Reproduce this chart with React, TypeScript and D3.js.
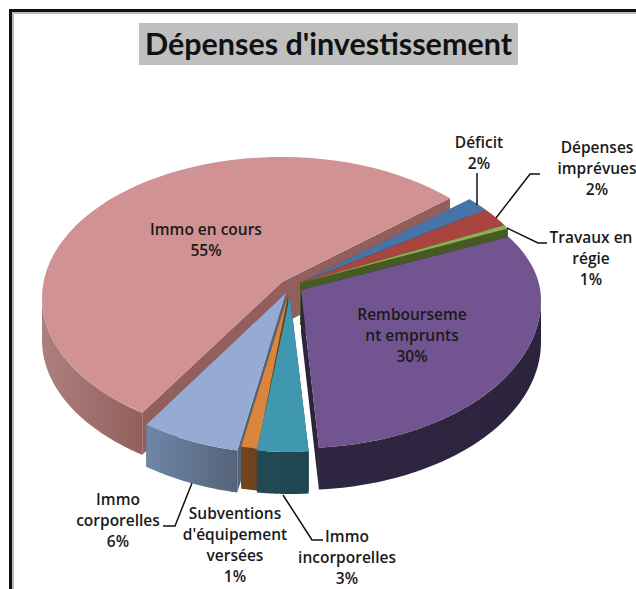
import React from "react";
import * as d3 from "d3";

const categories = ["Déficit", "Dépenses imprévues", "Travaux en régie", "Remboursement emprunts", "Immo incorporelles", "Subventions d'équipement versées", "Immo corporelles", "Immo en cours"];
const shares = [1.58, 2.17, 0.42, 32.08, 3.47, 1.11, 6.53, 52.64];
const percentLabels = ["2%", "2%", "1%", "30%", "3%", "1%", "6%", "55%"];
const labelLines = [["Déficit"], ["Dépenses", "imprévues"], ["Travaux en", "régie"], ["Rembourseme", "nt emprunts"], ["Immo", "incorporelles"], ["Subventions", "d'équipement", "versées"], ["Immo", "corporelles"], ["Immo en cours"]];
const topColors = ["#4674a8", "#a84540", "#8cb050", "#725590", "#4098b0", "#db843d", "#95abd4", "#d09292"];
const wallLight = ["#3c6390", "#8f3a36", "#4d6228", "#2f2642", "#224a55", "#74451d", "#6f86a8", "#ad807e"];
const wallDark = ["#2d4a6b", "#6b2b28", "#465a24", "#2c233d", "#1f4650", "#6c401b", "#55637a", "#935f5d"];
const apexes = [[300, 283], [300, 283], [300, 283], [301, 290], [290, 296], [288, 295], [286, 293], [282, 282]];
const rimCentres = [[300, 299], [300, 299], [300, 299], [300, 300], [290, 298], [291, 297], [288, 297], [281, 298]];
const rimRadii = [[240, 141, 141], [240, 141, 141], [240, 141, 141], [241, 126, 148], [238, 141, 154], [240, 141, 153], [244, 141, 157], [239, 141, 141]];
const labelAnchors = [[479, 148], [597, 153], [591, 243], [412, 320], [347, 542], [235, 519], [118, 505], [206, 235]];
const drawOrder = [7, 0, 1, 2, 3, 6, 5, 4];
const leaders = [[[477, 173], [477, 205]], [[540, 174], [530, 174], [496, 218]], [[547, 243], [538, 243], [507, 228]], null, [[323, 540], [312, 540], [283, 495]], null, [[163, 526], [175, 526], [192, 483]], null];

const W = 636, H = 589;
const DEPTH = 42;
const FIRST_ANGLE = (45 * Math.PI) / 180;

const pieLayout = d3.pie<number>().sort(null).startAngle(FIRST_ANGLE).endAngle(FIRST_ANGLE + 2 * Math.PI);
const arcs = pieLayout(shares);
const lineGen = d3.line<number[]>().x((d) => d[0]).y((d) => d[1]);

const point = (a: number, i: number, drop = 0) => {
  const cos = Math.cos(a);
  const [rx, ryTop, ryBottom] = rimRadii[i];
  return [rimCentres[i][0] + rx * Math.sin(a), rimCentres[i][1] - (cos > 0 ? ryTop : ryBottom) * cos + drop];
};
const sample = (a0: number, a1: number, i: number, drop = 0) =>
  d3.range(0, 61).map((k) => point(a0 + ((a1 - a0) * k) / 60, i, drop));

export default function App() {
  return (
    <svg width={W} height={H} style={{ position: "absolute", left: 0, top: 0, background: "#fff" }} fontFamily="'Open Sans', Lato, sans-serif">
      <defs>
        {arcs.map((_, i) => (
          <linearGradient key={i} id={`w${i}`} x1="0" x2="1" y1="0" y2="0">
            <stop offset="0" stopColor={wallLight[i]} />
            <stop offset="1" stopColor={wallDark[i]} />
          </linearGradient>
        ))}
      </defs>
      <rect x={0} y={0} width={W} height={H} fill="#fff" />
      <path d={`M10.5 ${H}V10.5H${W}`} fill="none" stroke="#111" strokeWidth={3} />
      <path d={`M13 ${H}V13H${W}`} fill="none" stroke="#bbb" strokeWidth={2} />
      <rect x={139} y={23} width={379} height={42} fill="#bfbfbf" />
      <text x={328.5} y={55} textAnchor="middle" fontSize={30.5} fontWeight={700} fontFamily="Lato, sans-serif" fill="#111">Dépenses d'investissement</text>
      {drawOrder.map((i) => {
        const d = arcs[i];
        const c = apexes[i];
        const a0 = d.startAngle, a1 = d.endAngle;
        const lo = Math.max(a0, Math.PI / 2), hi = Math.min(a1, (3 * Math.PI) / 2);
        const outerTop = lo < hi ? sample(lo, hi, i) : [];
        const outerBottom = lo < hi ? sample(lo, hi, i, DEPTH).reverse() : [];
        const face = (a: number) => [c, point(a, i), point(a, i, DEPTH), [c[0], c[1] + DEPTH]];
        return (
          <g key={categories[i]}>
            <path d={(lineGen(face(a0)) ?? "") + "Z"} fill={wallDark[i]} />
            <path d={(lineGen(face(a1)) ?? "") + "Z"} fill={wallDark[i]} />
            {outerTop.length > 0 && <path d={(lineGen([...outerTop, ...outerBottom]) ?? "") + "Z"} fill={`url(#w${i})`} />}
            <path d={(lineGen([c, ...sample(a0, a1, i)]) ?? "") + "Z"} fill={topColors[i]} />
          </g>
        );
      })}
      {leaders.map((l, i) => l && <path key={i} d={lineGen(l) ?? ""} fill="none" stroke="#111" strokeWidth={1.5} />)}
      {labelLines.map((lines, i) => (
        <text key={i} textAnchor="middle" fontSize={15.5} fontWeight={600} fill="#1a1a1a">
          {[...lines, percentLabels[i]].map((t, j) => (
            <tspan key={j} x={labelAnchors[i][0]} y={labelAnchors[i][1] + j * 21}>{t}</tspan>
          ))}
        </text>
      ))}
    </svg>
  );
}
